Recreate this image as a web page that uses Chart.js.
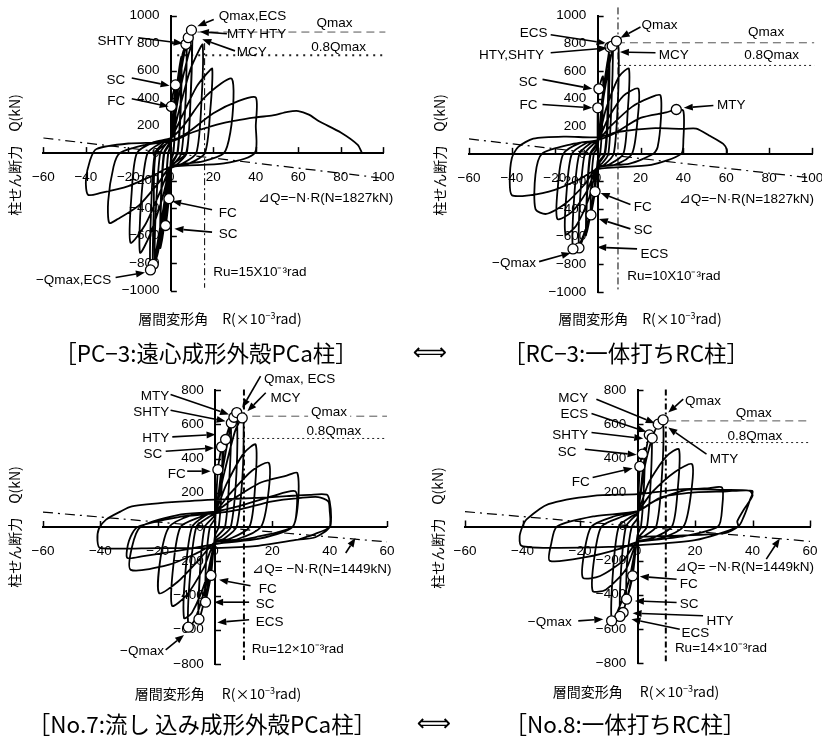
<!DOCTYPE html>
<html><head><meta charset="utf-8">
<script src="https://cdn.jsdelivr.net/npm/chart.js@4.4.1/dist/chart.umd.min.js"></script>
<style>
html,body{margin:0;padding:0;background:#fff;}
body{width:822px;height:736px;position:relative;overflow:hidden;}
canvas{position:absolute;}
.t{position:absolute;font-family:"Noto Sans CJK JP",sans-serif;color:#000;white-space:nowrap;line-height:1;}
.cap{font-size:22.5px;transform:translate(-50%,-50%);}
.arr{font-family:"DejaVu Sans",sans-serif;font-size:24px;transform:translate(-50%,-50%);}
.xt{font-size:14px;transform:translate(-50%,-50%);}
.yt{font-size:14px;transform:translate(-50%,-50%) rotate(-90deg);}
</style></head><body>
<canvas id="c1" width="411" height="340" style="left:0;top:0"></canvas>
<canvas id="c2" width="431" height="340" style="left:411px;top:0"></canvas>
<canvas id="c3" width="411" height="396" style="left:0;top:340px"></canvas>
<canvas id="c4" width="441" height="396" style="left:411px;top:340px"></canvas>

<div class="t yt" style="left:14px;top:155px">柱せん断力　Q(kN)</div>
<div class="t xt" style="left:220px;top:318px">層間変形角　R(×10<sup style="font-size:9px">−3</sup>rad)</div>
<div class="t yt" style="left:439px;top:155px">柱せん断力　Q(kN)</div>
<div class="t xt" style="left:640px;top:318px">層間変形角　R(×10<sup style="font-size:9px">−3</sup>rad)</div>
<div class="t yt" style="left:14px;top:527px">柱せん断力　Q(kN)</div>
<div class="t xt" style="left:218px;top:693px">層間変形角　 R(×10<sup style="font-size:9px">−3</sup>rad)</div>
<div class="t yt" style="left:437px;top:528px">柱せん断力　Q(kN)</div>
<div class="t xt" style="left:636px;top:691px">層間変形角　 R(×10<sup style="font-size:9px">−3</sup>rad)</div>

<div class="t cap" style="left:206px;top:352px">［PC−3:遠心成形外殻PCa柱］</div>
<div class="t arr" style="left:430px;top:352px">⟺</div>
<div class="t cap" style="left:626px;top:352px">［RC−3:一体打ちRC柱］</div>
<div class="t cap" style="left:202px;top:723px">［No.7:流し 込み成形外殻PCa柱］</div>
<div class="t arr" style="left:434px;top:723px">⟺</div>
<div class="t cap" style="left:625px;top:723px">［No.8:一体打ちRC柱］</div>

<script>
// ===== PC-3 (遠心成形外殻PCa柱): R (x10^-3 rad), Q (kN) =====
const pc3Curve = [
[0,0],[0.2,340],[1,430],[2.2,496],[2.5,510],[2.2,250],[1.2,0],[0,-60],[-0.9,-332],[-2.5,-527],[-2.3,-250],[-1.3,0],[0,60],
[1.2,330],[2.4,480],[2.1,230],[1.1,0],[0,-50],[-1.2,-330],[-2.4,-500],[-2.2,-230],[-1.2,0],[0,50],
[2,380],[4,620],[5,700],[4.6,300],[3.2,0],[1.2,-60],[0,-90],[-2,-400],[-4,-620],[-5,-690],[-4.6,-300],[-3.3,0],[-1.2,60],[0,90],
[2.2,360],[4.8,660],[4.4,290],[3,0],[0,-80],[-2.2,-380],[-4.8,-650],[-4.4,-290],[-3,0],[0,80],
[2.5,420],[5.5,720],[7.1,792],[7.5,820],[7,400],[5,0],[2,-70],[0,-100],[-2.5,-420],[-6,-720],[-7.5,-790],[-7,-400],[-5,0],[-2,70],[0,100],
[3,420],[6.5,740],[8.2,840],[9.7,895],[10.2,880],[9.4,450],[7.5,0],[3,-80],[0,-110],[-3,-420],[-7,-740],[-9.6,-850],[-9.3,-420],[-7.5,0],[-3,80],[0,110],
[3.5,400],[8,700],[9.8,780],[9.3,400],[7.2,0],[0,-100],[-3.5,-400],[-8.3,-810],[-8,-400],[-7,0],[0,100],
[4,320],[9,600],[13,740],[15,790],[14.5,400],[12,0],[5,-80],[0,-110],[-4,-330],[-10,-600],[-14.5,-725],[-14,-350],[-11,0],[-4,80],[0,110],
[5,260],[12,480],[17,580],[19.5,614],[18.5,300],[16,0],[8,-80],[0,-110],[-5,-280],[-12,-520],[-19,-652],[-18.5,-300],[-16,0],[-8,80],[0,110],
[6,200],[15,390],[24,510],[28.7,541],[29.5,400],[28,150],[25,0],[15,-60],[0,-100],[-6,-220],[-15,-380],[-25,-480],[-29,-508],[-29.5,-350],[-27,-100],[-24,0],[-12,60],[0,90],
[8,150],[20,290],[32,380],[40,404],[40,200],[39.5,0],[25,-75],[0,-100],[-8,-160],[-20,-240],[-33,-290],[-39,-303],[-40,-200],[-38,-50],[-35,30],[-20,70],[0,85],
[10,150],[25,220],[40,260],[48,274],[55,300],[60,306],[65,280],[70,230],[80,150],[88,60],[90,0]
];
const pc3Markers = [[0.2,340],[2.2,496],[7.1,792],[8.2,840],[9.7,895],[-0.9,-332],[-2.5,-527],[-8.3,-810],[-9.6,-850]];
const pc3Qmax = [[12.5,881],[101,881]];
const pc3Q08 = [[3,712],[101,712]];
const pc3Ru = [[15.9,800],[15.9,-980]];
const pc3DeltaQ = [[-60,110],[100,-183]];

// ===== RC-3 (一体打ちRC柱) =====
const rc3Curve = [
[0,0],[0.05,333],[0.6,471],[2.5,560],[2.2,250],[1.2,0],[0,-50],[-1.2,-273],[-3.1,-442],[-3.3,-460],[-3,-220],[-1.8,0],[0,50],
[2,380],[4.5,660],[5.5,720],[5,300],[3.5,0],[1,-60],[0,-80],[-2,-350],[-5,-560],[-5.5,-590],[-5,-280],[-3.5,0],[-1,60],[0,80],
[2.2,370],[5,690],[4.6,290],[3.2,0],[0,-70],[-2.2,-340],[-5.2,-570],[-4.8,-270],[-3.2,0],[0,70],
[2.5,420],[5.7,773],[6.8,780],[7.2,770],[6.5,380],[5,0],[2,-70],[0,-90],[-3,-400],[-7,-620],[-8.7,-681],[-8.2,-330],[-6,0],[-2,70],[0,90],
[3,430],[7,760],[8.8,816],[9.8,760],[9.5,400],[7.5,0],[3,-80],[0,-100],[-3,-400],[-8,-640],[-11.5,-688],[-11,-330],[-8.5,0],[-3,80],[0,100],
[4,330],[10,560],[14.6,616],[14,300],[12,0],[5,-80],[0,-100],[-4,-320],[-10,-520],[-15,-580],[-14.5,-280],[-12,0],[-5,80],[0,100],
[5,260],[12,420],[19,471],[18.5,230],[16,0],[8,-80],[0,-100],[-5,-270],[-12,-420],[-18.8,-471],[-18.5,-230],[-16,0],[-8,80],[0,100],
[6,200],[16,340],[25,410],[29.3,423],[29.5,250],[28,50],[26,0],[15,-70],[0,-100],[-6,-220],[-15,-360],[-24,-435],[-29,-400],[-29,-150],[-26,0],[-12,70],[0,100],
[8,150],[20,260],[32,300],[36.7,321],[40,310],[40,100],[39,0],[25,-80],[0,-110],[-8,-180],[-20,-260],[-32,-300],[-40,-300],[-41,-200],[-40,-30],[-37,50],[-30,110],[-15,125],[0,120],
[10,160],[25,185],[40,181],[46,183],[52,133],[58.6,72],[60.3,30],[60.3,0]
];
const rc3Markers = [[0.05,333],[0.6,471],[5.7,773],[6.8,780],[8.8,816],[36.7,321],[-1.2,-273],[-3.1,-442],[-8.7,-681],[-11.5,-688]];
const rc3Qmax = [[9,804],[101,804]];
const rc3Q08 = [[10,640],[101,640]];
const rc3Ru = [[9.5,1060],[9.5,-990]];
const rc3DeltaQ = [[-60,108],[100,-175]];

// ===== No.7 (流し込み成形外殻PCa柱) =====
const no7Curve = [
[0,0],[1,335],[2.3,468],[2.6,480],[2.3,220],[1.3,0],[0,-50],[-1.4,-283],[-3.3,-439],[-3.5,-450],[-3.1,-200],[-1.8,0],[0,50],
[2,300],[3.7,511],[5.5,600],[5,280],[3.5,0],[1,-50],[0,-70],[-2,-300],[-5.6,-538],[-5.2,-250],[-3.6,0],[-1,50],[0,70],
[2.5,320],[5.7,608],[6.6,641],[7.6,668],[7.5,320],[5.5,0],[2,-60],[0,-80],[-3,-330],[-7,-540],[-9.3,-585],[-8.7,-280],[-6.5,0],[-2,60],[0,80],
[3,300],[7,560],[9.5,637],[10,600],[9.6,300],[7.5,0],[3,-70],[0,-90],[-3,-300],[-8,-500],[-10.8,-532],[-10.3,-260],[-8,0],[-3,70],[0,90],
[4,250],[10,430],[14.2,481],[14,240],[12,0],[5,-70],[0,-90],[-4,-240],[-10,-400],[-15,-460],[-14.5,-220],[-12,0],[-5,60],[0,90],
[5,190],[13,330],[18.8,374],[18.5,180],[16,0],[8,-70],[0,-90],[-5,-180],[-13,-320],[-19.5,-386],[-19,-180],[-16,0],[-8,70],[0,90],
[6,160],[16,260],[25,300],[28.7,316],[29,150],[27,0],[15,-70],[0,-100],[-6,-150],[-16,-220],[-29.4,-250],[-29,-120],[-26,0],[-13,70],[0,90],
[8,120],[20,180],[28,209],[28.5,100],[27,0],[14,-60],[0,-100],[-10,-130],[-25,-170],[-30.6,-180],[-30,-80],[-27,0],[-12,60],[0,80],
[8,100],[20,150],[30,170],[36,175],[39.5,150],[40,100],[40,0],[35,-60],[29,-74],[15,-110],[0,-123],[-20,-123],[-40,-123],[-41,-80],[-40.5,-10],[-38,43],[-33,90],[-29,120],[-15,145],[0,160],[15,170],[25,180],[33,188],[39,189],[40,150],[40.5,60],[40,0],[35,-40],[29,-74]
];
const no7Markers = [[1,335],[2.3,468],[3.7,511],[5.7,608],[6.6,641],[7.6,668],[9.5,637],[-1.4,-283],[-3.3,-439],[-5.6,-538],[-9.3,-585]];
const no7Qmax = [[13,647],[60,647]];
const no7Q08 = [[6,517],[60,517]];
const no7Ru = [[10.1,803],[10.1,-776]];
const no7DeltaQ = [[-60,87],[60,-87]];

// ===== No.8 (一体打ちRC柱) =====
const no8Curve = [
[0,0],[0.8,352],[1.7,424],[2.5,460],[2.2,220],[1.2,0],[0,-50],[-1.7,-289],[-3.8,-426],[-3.6,-200],[-2,0],[0,50],
[2,350],[4.1,537],[5,550],[4.6,270],[3.3,0],[1,-50],[0,-70],[-2,-300],[-5,-504],[-6.1,-527],[-5.7,-250],[-4,0],[-1,60],[0,70],
[2.5,350],[5.1,518],[7.2,600],[8.9,625],[8.5,300],[6.5,0],[2,-60],[0,-80],[-3,-320],[-7,-500],[-9,-553],[-8.5,-260],[-6.5,0],[-2,60],[0,80],
[4,260],[10,410],[14.4,453],[14,220],[12,0],[5,-70],[0,-90],[-4,-250],[-11,-370],[-15.6,-377],[-15,-180],[-12.5,0],[-5,60],[0,90],
[5,200],[13,320],[19,365],[18.5,180],[16,0],[8,-70],[0,-90],[-5,-200],[-13,-290],[-19,-300],[-18.5,-150],[-16,0],[-8,60],[0,90],
[6,150],[16,210],[25,225],[29.4,228],[29.5,120],[28,0],[15,-60],[0,-90],[-6,-130],[-18,-180],[-30.5,-201],[-30,-100],[-28,0],[-15,60],[0,90],
[8,170],[20,200],[30,205],[39.9,209],[39,150],[37,60],[35,0],[20,-80],[0,-110],[-10,-120],[-30,-125],[-40.3,-113],[-41,-60],[-40,0],[-38.5,43],[-31,131],[-15.4,180],[0,190],[16,219],[30,215],[39,209],[40,180],[37,100],[34.7,30],[35,0],[30,-40],[0,-60]
];
const no8Markers = [[0.8,352],[1.7,424],[4.1,537],[5.1,518],[7.2,600],[8.9,625],[-1.7,-289],[-3.8,-426],[-5,-504],[-6.1,-527],[-9,-553]];
const no8Qmax = [[10.7,619],[60,619]];
const no8Q08 = [[3,492],[60,492]];
const no8Ru = [[9.85,803],[9.85,-790]];
const no8DeltaQ = [[-60,87],[60,-87]];

// axis ranges
const pcRange = {xmin:-60,xmax:100,ymin:-1000,ymax:1000};
const noRange = {xmin:-60,xmax:60,ymin:-800,ymax:800};

// annotation texts: [text, R, Q, align]
const pc3Labels = [
 ["Qmax,ECS",22.5,996,"left"],["MTY HTY",26.4,864,"left"],["MCY",31,731,"left"],
 ["SHTY",-17.6,816,"right"],["SC",-21.5,527,"right"],["FC",-21.5,375,"right"],
 ["FC",22.5,-436,"left"],["SC",22.5,-592,"left"],["−Qmax,ECS",-28,-929,"right"],
 ["Qmax",77,948,"center"],["0.8Qmax",79,772,"center"],
 ["⊿Q=−N·R(N=1827kN)",41,-327,"left"],["Ru=15X10⁻³rad",20,-869,"left"]];
const pc3Arrows = [[20.2,972,12.5,924],[26.4,869,13.7,883],[30.2,744,14.8,828],[-15.3,840,5.6,799],
 [-18.4,546,-0.6,491],[-18.4,395,-1,339],[19.4,-412,0.6,-351],[19.4,-575,1.7,-551],[-26,-905,-12.2,-869]];

const rc3Labels = [
 ["Qmax",20.5,930,"left"],["ECS",-23.4,870,"right"],["HTY,SHTY",-25,713,"right"],["MCY",28.5,713,"left"],
 ["SC",-28,519,"right"],["FC",-28,350,"right"],["MTY",55.7,350,"left"],
 ["FC",16.9,-386,"left"],["SC",16.9,-556,"left"],["ECS",20,-729,"left"],["−Qmax",-28.8,-792,"right"],
 ["Qmax",78.6,877,"center"],["0.8Qmax",81.2,717,"center"],
 ["⊿Q=−N·R(N=1827kN)",37.8,-326,"left"],["Ru=10X10⁻³rad",13.8,-889,"left"]];
const rc3Arrows = [[20,918,10.7,841],[-21.9,862,3.7,802],[-21.9,732,4.5,766],[27,732,10.4,737],
 [-25.7,539,-2.5,471],[-25.7,357,-2.5,333],[54,350,40.2,333],[15.3,-367,1.4,-283],[15.3,-543,0.6,-471],
 [18.4,-688,-0.2,-676],[-27.3,-780,-12.6,-717]];

const no7Labels = [
 ["Qmax, ECS",17.1,862,"left"],["MCY",19.4,749,"left"],["MTY",-16,764,"right"],["SHTY",-16,667,"right"],
 ["HTY",-16,520,"right"],["SC",-18.4,423,"right"],["FC",-10.2,306,"right"],
 ["Qmax",39.8,671,"centerbox"],["0.8Qmax",41.5,557,"center"],
 ["⊿Q= −N·R(N=1449kN)",13,-246,"left"],["FC",15.3,-363,"left"],["SC",14.2,-454,"left"],["ECS",14.2,-557,"left"],
 ["−Qmax",-17.8,-723,"right"],["Ru=12×10⁻³rad",12.8,-713,"left"]];
const no7Arrows = [[15.9,881,9.5,696],[17.7,784,11.3,676],[-15.5,774,4.9,657],[-15.5,682,3.7,618],
 [-14.9,526,0.2,540],[-17.2,442,-0.3,462],[-9.7,326,-1.5,326],[12.4,-343,1.4,-308],[11.9,-439,-0.3,-439],
 [11.9,-542,0.8,-557],[-17.2,-717,-10.8,-630],[45.6,-152,49,-64]];

const no8Labels = [
 ["Qmax",16.5,736,"left"],["MCY",-17.1,750,"right"],["ECS",-17.1,658,"right"],["SHTY",-17.1,537,"right"],
 ["SC",-21.2,434,"right"],["FC",-16.6,262,"right"],["MTY",25.1,394,"left"],
 ["Qmax",40.4,664,"center"],["0.8Qmax",40.8,527,"center"],
 ["⊿Q= −N·R(N=1449kN)",13,-240,"left"],["FC",14.7,-338,"left"],["SC",14.7,-455,"left"],["HTY",24,-553,"left"],
 ["ECS",15.3,-625,"left"],["−Qmax",-22.9,-563,"right"],["Ru=14×10⁻³rad",13,-715,"left"]];
const no8Arrows = [[15.9,746,10.7,668],[-14.3,746,6,605],[-16,662,3.1,555],[-16,551,2,516],
 [-18.3,453,-0.3,420],[-15.6,287,-1.7,342],[24,424,10.7,580],[13.6,-309,0.8,-293],[13.6,-445,-0.9,-436],
 [22.8,-523,-1.7,-508],[14.7,-602,-2.1,-543],[-20.6,-553,-11.9,-543],[44.8,-191,49.5,-70]];

const FONT = '"Liberation Sans", Arial, sans-serif';
const toXY = a => a.map(p => ({x:p[0], y:p[1]}));
const fmt = v => (v < 0 ? '−' : '') + Math.abs(v);

const annoPlugin = {
  id: 'anno',
  afterDatasetsDraw(chart, args, opts) {
    const {ctx} = chart; const sx = chart.scales.x, sy = chart.scales.y;
    const px = v => sx.getPixelForValue(v), py = v => sy.getPixelForValue(v);
    ctx.save();
    ctx.strokeStyle = '#000'; ctx.fillStyle = '#000'; ctx.lineWidth = 1.5;
    const x0 = px(0), y0 = py(0);
    sy.ticks.forEach(t => { const yy = Math.round(py(t.value)) + 0.5; ctx.beginPath(); ctx.moveTo(x0, yy); ctx.lineTo(x0 + 6, yy); ctx.stroke(); });
    sx.ticks.forEach(t => { const xx = Math.round(px(t.value)) + 0.5; ctx.beginPath(); ctx.moveTo(xx, y0); ctx.lineTo(xx, y0 - 6); ctx.stroke(); });
    ctx.lineWidth = 1.6;
    opts.arrows.forEach(a => {
      const x1 = px(a[0]), y1 = py(a[1]), x2 = px(a[2]), y2 = py(a[3]);
      const ang = Math.atan2(y2 - y1, x2 - x1), L = 9, W = 3.5;
      const bx = x2 - L * Math.cos(ang), by = y2 - L * Math.sin(ang);
      ctx.beginPath(); ctx.moveTo(x1, y1); ctx.lineTo(bx, by); ctx.stroke();
      ctx.beginPath(); ctx.moveTo(x2, y2);
      ctx.lineTo(bx + W * Math.sin(ang), by - W * Math.cos(ang));
      ctx.lineTo(bx - W * Math.sin(ang), by + W * Math.cos(ang));
      ctx.closePath(); ctx.fill();
    });
    ctx.font = '13.5px ' + FONT; ctx.textBaseline = 'middle';
    opts.labels.forEach(l => {
      const x = px(l[1]), y = py(l[2]);
      let al = l[3];
      if (al === 'centerbox') {
        const w = ctx.measureText(l[0]).width;
        ctx.fillStyle = '#fff'; ctx.fillRect(x - w / 2 - 3, y - 6, w + 6, 14); ctx.fillStyle = '#000';
        al = 'center';
      }
      ctx.textAlign = al; ctx.fillText(l[0], x, y);
    });
    ctx.restore();
  }
};

function makePanel(id, curve, markers, qmax, q08, ru, dq, range, labels, arrows, pad, st) {
  const ds = [
    {data: toXY(markers), showLine: false, pointRadius: 5, pointBackgroundColor: '#fff', pointBorderColor: '#000', pointBorderWidth: 1.3, order: 0},
    {data: toXY(curve), showLine: true, borderColor: '#000', borderWidth: 1.8, pointRadius: 0, tension: 0.25, order: 1},
    {data: toXY(qmax), showLine: true, borderColor: '#555', borderWidth: 1, borderDash: [8, 5], pointRadius: 0, clip: false, order: 2},
    {data: toXY(q08), showLine: true, borderColor: '#222', borderWidth: st.q08w, borderDash: st.q08w > 1.5 ? [2, 5] : [2, 3], pointRadius: 0, clip: false, order: 2},
    {data: toXY(ru), showLine: true, borderColor: '#000', borderWidth: st.ruw, borderDash: st.ruw > 1.5 ? [6, 3, 2, 3] : [7, 3, 2, 3], pointRadius: 0, clip: false, order: 2},
    {data: toXY(dq), showLine: true, borderColor: '#000', borderWidth: 1.2, borderDash: [10, 5, 2, 5], pointRadius: 0, clip: false, order: 2}
  ];
  new Chart(document.getElementById(id), {
    type: 'scatter',
    data: {datasets: ds},
    options: {
      responsive: false, animation: false, devicePixelRatio: 1,
      layout: {padding: pad},
      plugins: {legend: {display: false}, tooltip: {enabled: false}, anno: {labels, arrows}},
      scales: {
        x: {type: 'linear', min: range.xmin, max: range.xmax, position: {y: 0},
            ticks: {stepSize: 20, autoSkip: false, maxRotation: 0, color: '#000', padding: 16.5, font: {family: FONT, size: 13.5},
                    callback: v => fmt(v)},
            grid: {display: false, drawTicks: false}, border: {display: true, color: '#000', width: 2}},
        y: {type: 'linear', min: range.ymin, max: range.ymax, position: {x: 0},
            ticks: {stepSize: 200, autoSkip: false, color: '#000', font: {family: FONT, size: 13.5},
                    callback: v => fmt(v) + '   '},
            grid: {display: false, drawTicks: false}, border: {display: true, color: '#000', width: 2}}
      }
    },
    plugins: [annoPlugin]
  });
}

makePanel('c1', pc3Curve, pc3Markers, pc3Qmax, pc3Q08, pc3Ru, pc3DeltaQ, pcRange, pc3Labels, pc3Arrows,
  {left: 43.4, right: 22, top: 15.7, bottom: 49.5}, {q08w: 2, ruw: 1});
makePanel('c2', rc3Curve, rc3Markers, rc3Qmax, rc3Q08, rc3Ru, rc3DeltaQ, pcRange, rc3Labels, rc3Arrows,
  {left: 58, right: 30, top: 15.7, bottom: 48}, {q08w: 1, ruw: 1});
makePanel('c3', no7Curve, no7Markers, no7Qmax, no7Q08, no7Ru, no7DeltaQ, noRange, no7Labels, no7Arrows,
  {left: 43, right: 23, top: 50, bottom: 72}, {q08w: 1, ruw: 2});
makePanel('c4', no8Curve, no8Markers, no8Qmax, no8Q08, no8Ru, no8DeltaQ, noRange, no8Labels, no8Arrows,
  {left: 54, right: 42, top: 50, bottom: 73}, {q08w: 1, ruw: 2});
</script>
</body></html>
